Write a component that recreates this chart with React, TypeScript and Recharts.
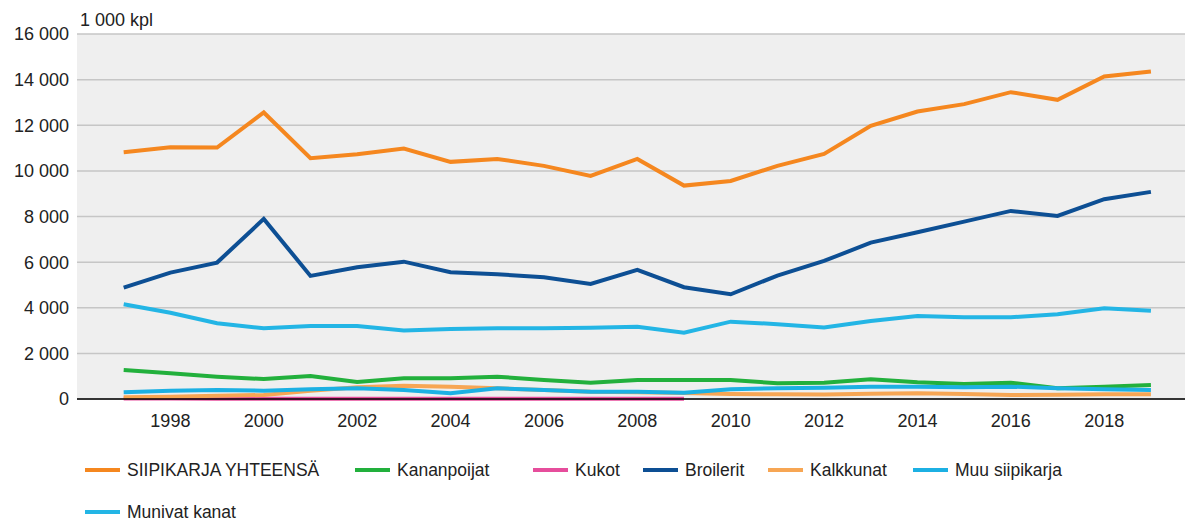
import { LineChart, Line, XAxis, YAxis, CartesianGrid } from "recharts";

const years = [1997, 1998, 1999, 2000, 2001, 2002, 2003, 2004, 2005, 2006, 2007, 2008, 2009, 2010, 2011, 2012, 2013, 2014, 2015, 2016, 2017, 2018, 2019];

const total = [10820, 11040, 11020, 12560, 10555, 10730, 10980, 10395, 10525, 10220, 9780, 10525, 9355, 9560, 10220, 10745, 11975, 12600, 12925, 13450, 13115, 14135, 14355];
const pullets = [1270, 1125, 980, 875, 1010, 745, 905, 905, 980, 835, 715, 835, 835, 835, 690, 710, 865, 730, 660, 715, 470, 540, 615];
const roosters = [20, 20, 15, 15, 15, 15, 15, 15, 15, 10, 10, 10, 10, null, null, null, null, null, null, null, null, null, null];
const broilers = [4880, 5540, 5980, 7895, 5395, 5775, 6020, 5555, 5470, 5340, 5045, 5660, 4900, 4590, 5410, 6050, 6855, 7310, 7775, 8245, 8025, 8760, 9080];
const turkeys = [75, 100, 145, 175, 365, 510, 585, 540, 470, 395, 320, 300, 260, 220, 210, 200, 230, 250, 220, 175, 190, 210, 205];
const otherPoultry = [295, 365, 395, 365, 425, 470, 395, 250, 470, 395, 320, 320, 275, 425, 470, 495, 540, 540, 515, 540, 470, 425, 395];
const layingHens = [4155, 3780, 3320, 3100, 3200, 3200, 3000, 3070, 3100, 3100, 3120, 3170, 2910, 3390, 3280, 3130, 3420, 3640, 3580, 3580, 3720, 3975, 3870];

const xTicks = [1998, 2000, 2002, 2004, 2006, 2008, 2010, 2012, 2014, 2016, 2018];
const yTicks = [0, 2000, 4000, 6000, 8000, 10000, 12000, 14000, 16000];

const series = [
  { key: "total", name: "SIIPIKARJA YHTEENSÄ", color: "#f5871f", values: total },
  { key: "pullets", name: "Kananpoijat", color: "#22b03c", values: pullets },
  { key: "roosters", name: "Kukot", color: "#e64d9c", values: roosters },
  { key: "broilers", name: "Broilerit", color: "#0d4f94", values: broilers },
  { key: "turkeys", name: "Kalkkunat", color: "#f7a654", values: turkeys },
  { key: "other", name: "Muu siipikarja", color: "#1cb0e3", values: otherPoultry },
  { key: "laying", name: "Munivat kanat", color: "#23b5e5", values: layingHens },
];

// legend item positions (left x, row y)
const legendPos = [
  [85, 470], [355, 470], [533, 470], [643, 470], [768, 470], [913, 470], [85, 512],
];

const data = years.map((year, i) => {
  const row: Record<string, number | null> = { year };
  series.forEach((s) => { row[s.key] = s.values[i]; });
  return row;
});

const fmt = (v: number) => String(v).replace(/\B(?=(\d{3})+(?!\d))/g, " ");

const font = "'Liberation Sans', Arial, sans-serif";

export default function App() {
  return (
    <div style={{ position: "absolute", left: 0, top: 0, width: 1185, height: 520, background: "#fff", fontFamily: font, color: "#222" }}>
      <div style={{ position: "absolute", left: 80, top: 10, fontSize: 18, lineHeight: "20px" }}>1 000 kpl</div>
      <LineChart width={1185} height={440} data={data} margin={{ top: 34, right: 0, bottom: 0, left: 0 }}>
        <CartesianGrid vertical={false} stroke="#c6c6c6" strokeWidth={1.5} fill="#efefef" />
        <XAxis dataKey="year" type="number" domain={[1996, 2019.73]} ticks={xTicks} tickLine={false}
          axisLine={{ stroke: "#000", strokeWidth: 1.5 }} tickMargin={9} height={41}
          tick={{ fill: "#222", fontSize: 18, fontFamily: font }} interval={0} />
        <YAxis domain={[0, 16000]} ticks={yTicks} axisLine={false} tickLine={false} width={77}
          tickFormatter={fmt} tick={{ fill: "#222", fontSize: 18, fontFamily: font }} interval={0} />
        {series.map((s) => (
          <Line key={s.key} type="linear" dataKey={s.key} name={s.name} stroke={s.color} strokeWidth={4}
            dot={false} isAnimationActive={false} connectNulls={false} />
        ))}
      </LineChart>
      {series.map((s, i) => (
        <div key={s.key} style={{ position: "absolute", left: legendPos[i][0], top: legendPos[i][1] - 11, height: 22, display: "flex", alignItems: "center", fontSize: 17.5, whiteSpace: "nowrap" }}>
          <span style={{ display: "inline-block", width: 35, height: 4, background: s.color, marginRight: 7 }} />
          <span>{s.name}</span>
        </div>
      ))}
    </div>
  );
}
